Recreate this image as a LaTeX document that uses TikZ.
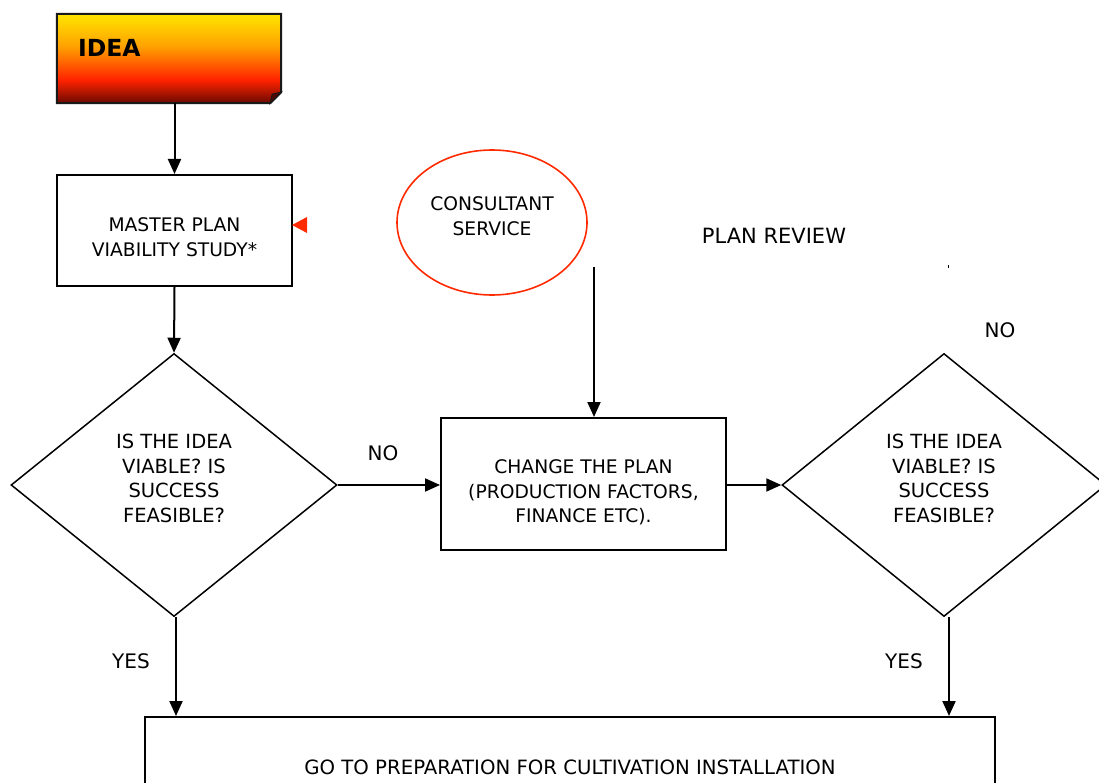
\documentclass[tikz,border=0pt]{standalone}
\usepackage{fontspec}
\setmainfont{DejaVu Sans}
\usetikzlibrary{shapes.geometric,arrows.meta}

\definecolor{flame}{HTML}{FF2A00}
\definecolor{ideatop}{HTML}{FFE600}
\definecolor{ideamid}{HTML}{FFA200}
\definecolor{ideared}{HTML}{FF2200}
\definecolor{ideadark}{HTML}{6A0A00}

% vertical gradient of the IDEA card (stops between 25bp and 75bp fill the path)
\pgfdeclareverticalshading{ideashade}{100bp}{%
  color(0bp)=(ideadark); color(25bp)=(ideadark); color(38bp)=(ideared);
  color(57bp)=(ideamid); color(75bp)=(ideatop); color(100bp)=(ideatop)}

\newcommand{\txt}{\fontsize{18.7}{24.5}\selectfont}
\newcommand{\qtxt}{\fontsize{19.5}{24.5}\selectfont}

\tikzset{
  box/.style={draw=black, line width=2pt, rectangle, inner sep=0pt},
  decision/.style={draw=black, line width=1.5pt, diamond, inner sep=0pt},
  bubble/.style={draw=flame, line width=1.6pt, ellipse, inner sep=0pt},
  words/.style={inner sep=0pt, align=center, font=\txt},
  qwords/.style={inner sep=0pt, align=center, font=\qtxt},
  flow/.style={line width=2pt, -{Triangle[length=15pt,width=13pt]}},
  answer/.style={font=\fontsize{20}{24}\selectfont, inner sep=0pt},
}

\begin{document}
\begin{tikzpicture}[x=1pt,y=-1pt]
\path[use as bounding box] (0,0) rectangle (1099,783);
\clip (0,0) rectangle (1099,783);

% IDEA card with a turned-up corner
\node[minimum width=224pt, minimum height=89pt, inner sep=0pt] (idea) at (169,58.5) {};
\shade[shading=ideashade, draw=black!90, line width=2pt, line join=miter]
  (idea.north west) -- (idea.north east) -- ([yshift=11pt]idea.south east)
  -- ([xshift=-11pt]idea.south east) -- (idea.south west) -- cycle;
\filldraw[fill=ideadark!80!black, draw=black!90, line width=1pt]
  ([xshift=-11pt]idea.south east) -- ([xshift=-9pt,yshift=9pt]idea.south east)
  -- ([yshift=11pt]idea.south east) -- cycle;
\node[anchor=west, font=\fontsize{23.5}{28}\selectfont\bfseries, inner sep=0pt] (idealabel) at (78,48) {IDEA};

% master plan box
\node[box, minimum width=235pt, minimum height=111pt] (master) at (174.5,230.5) {};
\node[words] (mastertext) at ([yshift=-6.5pt]master.center) {MASTER PLAN\\VIABILITY STUDY*};
\fill[flame] (292,225) -- (307,217) -- (307,233) -- cycle;

% first decision
\node[decision, minimum width=326pt, minimum height=263pt] (d1) at (174,485) {};
\node[qwords] (d1text) at ([yshift=6.5pt]d1.center) {IS THE IDEA\\VIABLE? IS\\SUCCESS\\FEASIBLE?};

% plan change
\node[box, minimum width=285pt, minimum height=132pt] (change) at (583.5,484) {};
\node[words] (changetext) at ([yshift=-8.5pt]change.center)
  {CHANGE THE PLAN\\(PRODUCTION FACTORS,\\FINANCE ETC).};

% second decision
\node[decision, minimum width=324pt, minimum height=263pt] (d2) at (944,485) {};
\node[qwords] (d2text) at ([yshift=6.5pt]d2.center) {IS THE IDEA\\VIABLE? IS\\SUCCESS\\FEASIBLE?};

% consultant
\node[bubble, minimum width=190pt, minimum height=145pt] (consult) at (492,222.5) {};
\node[words] (consulttext) at ([yshift=6.5pt]consult.center) {CONSULTANT\\SERVICE};

% final step
\node[box, minimum width=850pt, minimum height=100pt] (goto) at (570,767) {};
\node[font=\fontsize{19.7}{24}\selectfont, inner sep=0pt] (gotolabel) at (570,767)
  {GO TO PREPARATION FOR CULTIVATION INSTALLATION};

% free labels
\node[font=\fontsize{21}{24}\selectfont, inner sep=0pt] (review) at (774,236) {PLAN REVIEW};
\fill (947.5,265.5) rectangle (949,268.5);
\node[answer] (no1) at (383,453) {NO};
\node[answer] (no2) at (1000,330) {NO};
\node[answer] (yes1) at (131,661) {YES};
\node[answer] (yes2) at (904,661) {YES};

% connectors
\coordinate (cs) at (594,267);
\draw[flow] (master.north |- idea.south) -- (master.north);
\draw[flow] (master.south) -- (d1.north);
\draw[flow] (d1.east) -- (change.west |- d1.east);
\draw[flow] (change.east |- d2.west) -- (d2.west);
\draw[flow] (cs) -- (cs |- change.north);
\draw[flow] ([xshift=2pt]d1.south) -- ([xshift=2pt]d1.south |- goto.north);
\draw[flow] ([xshift=5pt]d2.south) -- ([xshift=5pt]d2.south |- goto.north);
\end{tikzpicture}
\end{document}
